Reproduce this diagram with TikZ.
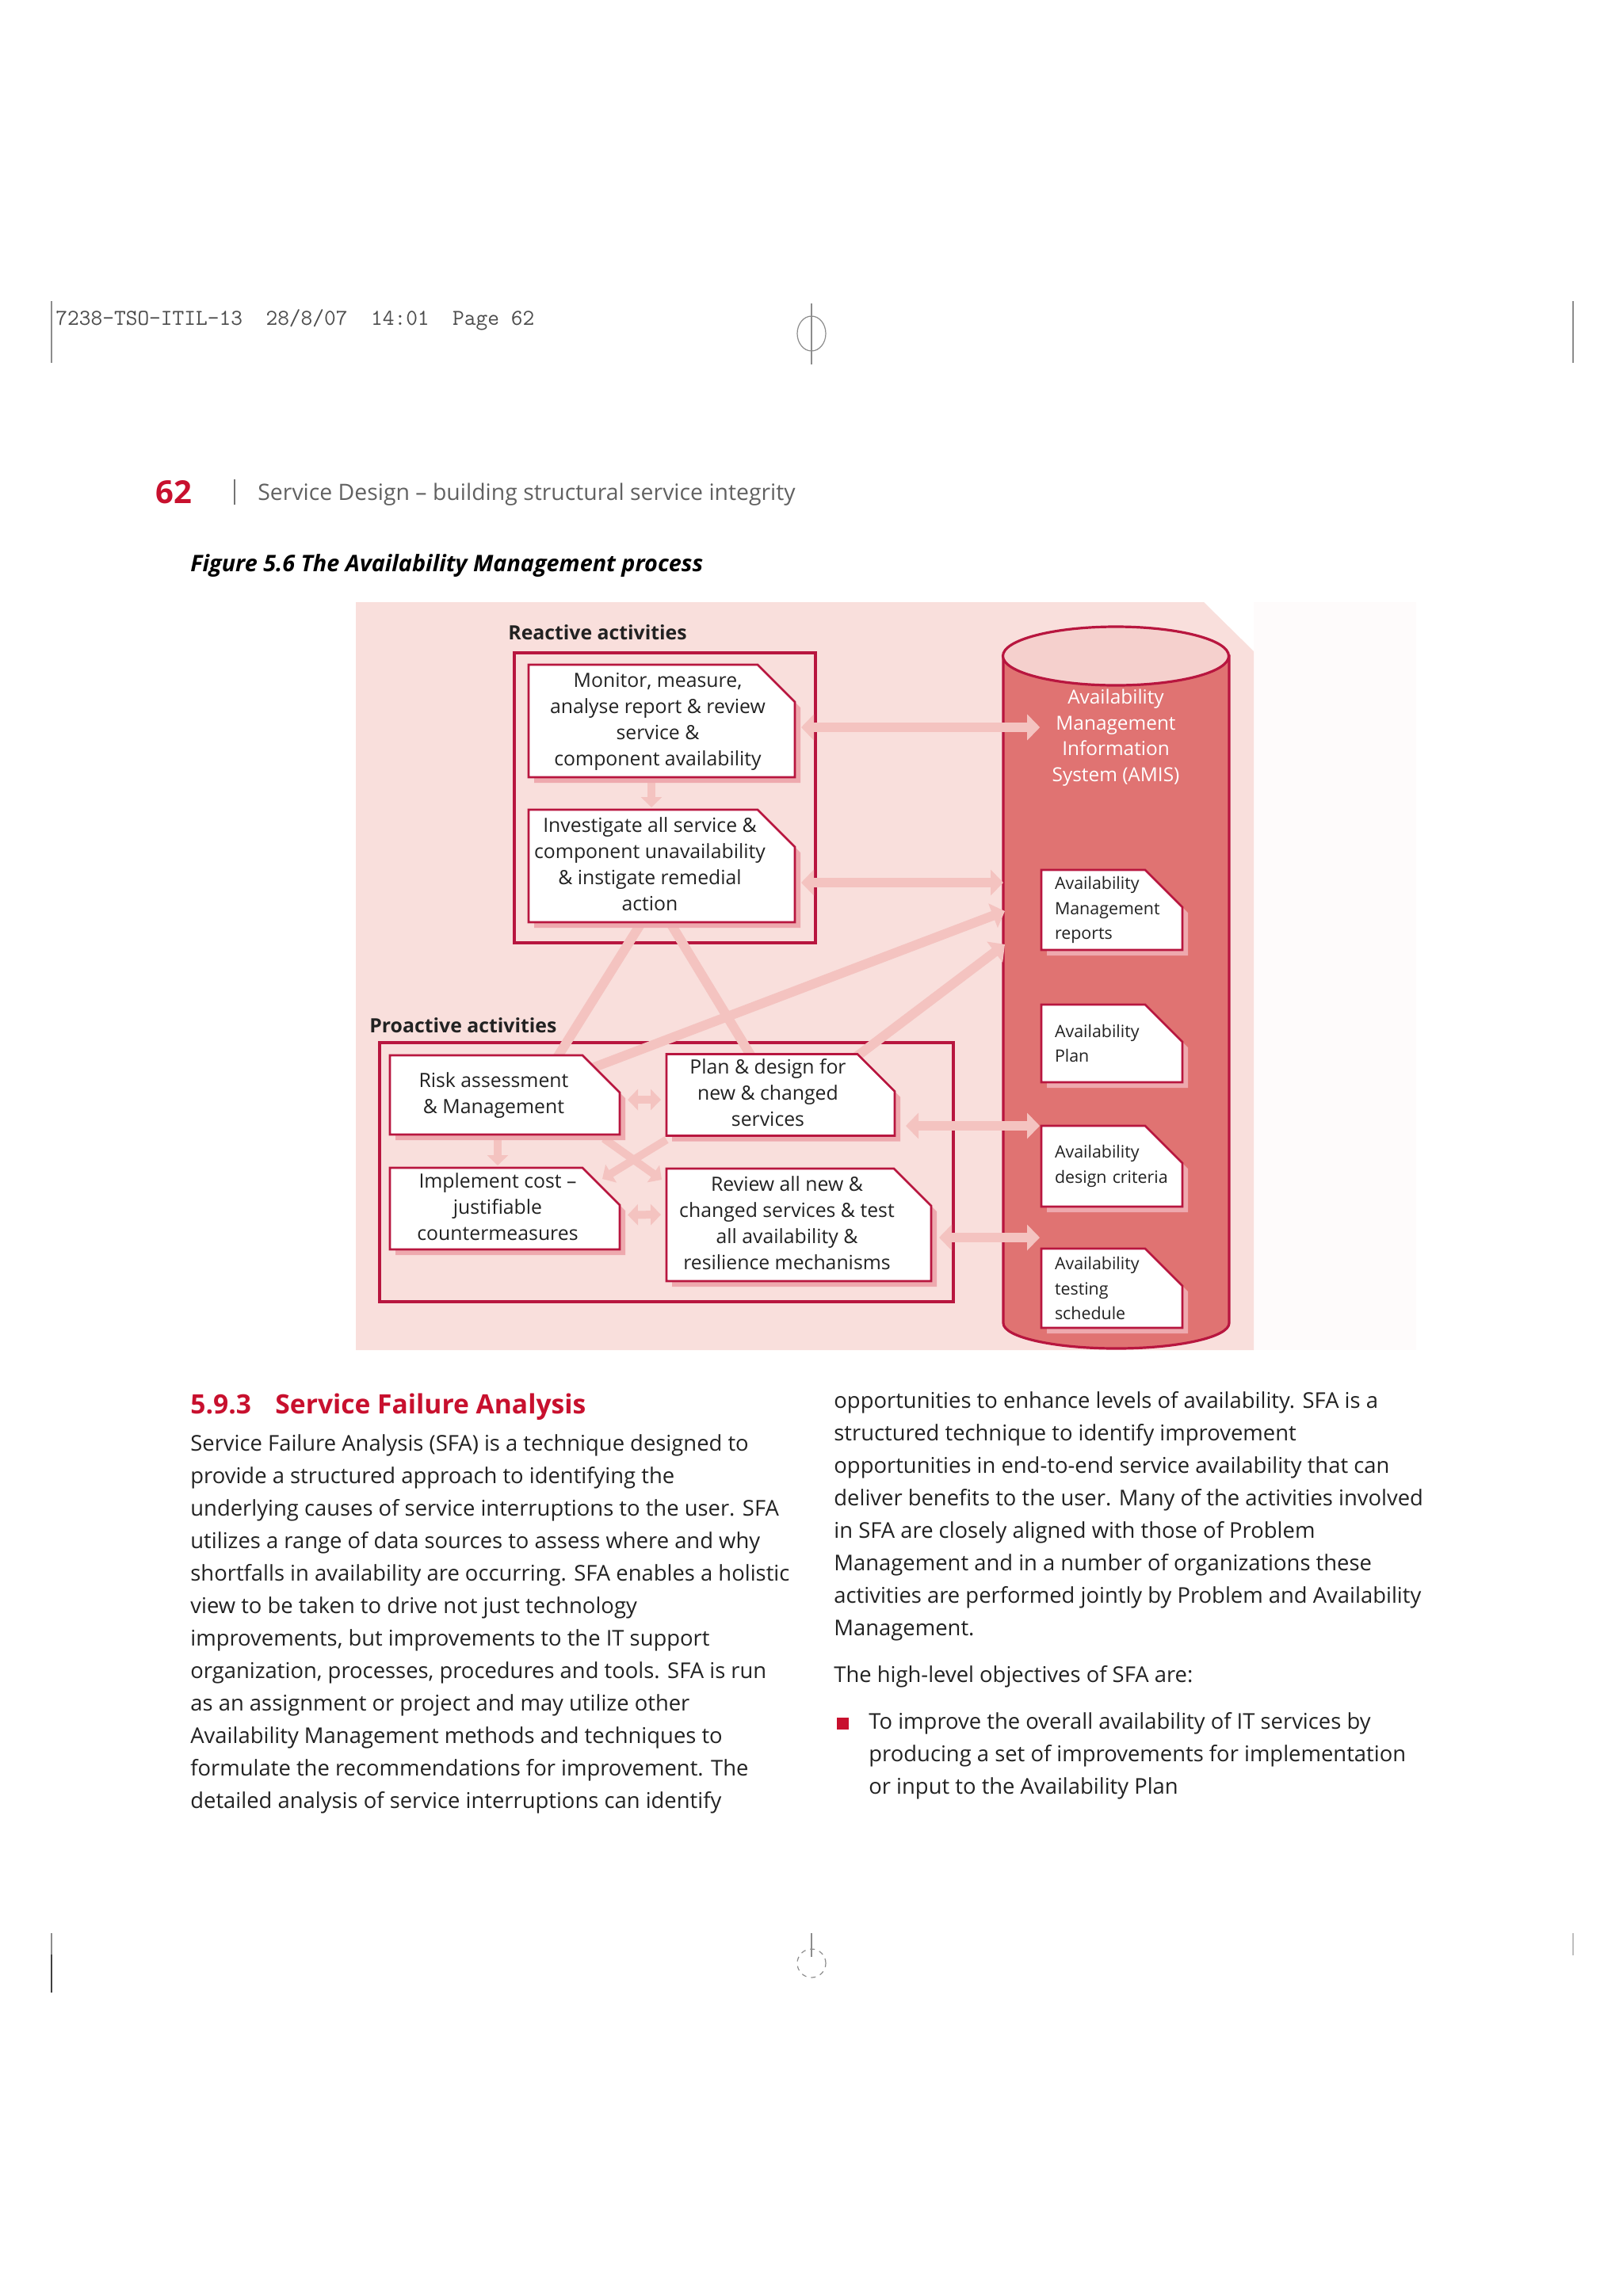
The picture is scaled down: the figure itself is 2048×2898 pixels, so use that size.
\documentclass[tikz,border=0pt]{standalone}
\usepackage{fontspec}
\setmainfont{Open Sans}
\usetikzlibrary{arrows.meta,calc}
\definecolor{crim}{HTML}{B8163F}
\definecolor{headred}{HTML}{C8102E}
\definecolor{bgpink}{HTML}{F9DFDC}
\definecolor{cylbody}{HTML}{E07372}
\definecolor{cyltop}{HTML}{F5D0CD}
\definecolor{arrowc}{HTML}{F4C3C0}
\definecolor{shadowc}{HTML}{EEA9AE}
\definecolor{txt}{HTML}{222222}
\pgfdeclarelayer{back}\pgfdeclarelayer{arr}\pgfdeclarelayer{boxes}
\pgfsetlayers{back,arr,boxes,main}
\newcommand\bodyfont{\fontsize{13.7}{20.5}\selectfont}
\newcommand\diagfont{\fontsize{12.4}{16.5}\selectfont}
\newcommand\cylfont{\fontsize{12.2}{16.35}\selectfont}
\newcommand\docfont{\fontsize{10.7}{15.7}\selectfont}
% centred lines, shifted left by #1 (given in pt = shift in px)
\newcommand\shiftl[2]{\begin{tabular}{@{}c@{\hspace{#1}}}#2\end{tabular}}
\newcommand\cutshape[1]{%
\begin{pgfonlayer}{boxes}
\fill[shadowc] ([xshift=3.5pt,yshift=-3.5pt]#1.south west) -- ([xshift=3.5pt,yshift=-3.5pt]#1.north west) -- ([xshift=-20pt,yshift=-3.5pt]#1.north east) -- ([xshift=3.5pt,yshift=-27pt]#1.north east) -- ([xshift=3.5pt,yshift=-3.5pt]#1.south east) -- cycle;
\filldraw[fill=white,draw=crim,line width=1.3pt] (#1.south west) -- (#1.north west) -- ([xshift=-23.5pt]#1.north east) -- ([yshift=-23.5pt]#1.north east) -- (#1.south east) -- cycle;
\end{pgfonlayer}}
\tikzset{
  regline/.style={draw=black!45,line width=0.6pt},
  procbox/.style={rectangle,inner xsep=2pt,inner ysep=1pt,outer sep=0pt,font=\diagfont,text=txt},
  docbox/.style={rectangle,text width=72pt,inner xsep=8.5pt,inner ysep=1pt,outer sep=0pt,align=left,font=\docfont,text=txt},
  groupbox/.style={rectangle,draw=crim,line width=1.6pt,inner sep=0pt,outer sep=0pt},
  flow/.style={draw=arrowc,line width=6pt,>={Triangle[width=16pt,length=8pt]}},
  flowsmall/.style={draw=arrowc,line width=5pt,>={Triangle[width=13pt,length=6.5pt]}},
  body/.style={anchor=base west,inner sep=0pt,font=\bodyfont,text=txt},
  lbl/.style={anchor=base west,inner sep=0pt}
}
\begin{document}
\begin{tikzpicture}[x=0.5pt,y=-0.5pt]
\useasboundingbox (0,0) rectangle (2048,2898);
\begin{pgfonlayer}{back}
\fill[white] (0,0) rectangle (2048,2898);
\end{pgfonlayer}
% registration marks
\draw[regline] (65,380) -- (65,458);
\draw[regline] (1024,383) -- (1024,460);
\draw[regline] (1024,421) ellipse [x radius=9pt, y radius=11pt];
\draw[regline] (1985,380) -- (1985,458);
\draw[regline] (65,2440) -- (65,2467);
\draw[draw=black!75,line width=0.8pt] (65,2467) -- (65,2515);
\draw[regline] (1024,2440) -- (1024,2470);
\draw[regline,dashed] (1024,2478) circle [radius=9pt];
\draw[regline,draw=black!25] (1985,2440) -- (1985,2468);
% header
\node[lbl,font=\ttfamily\fontsize{14.3}{16}\selectfont,text=black!70] (slug) at (70,410) {7238-TSO-ITIL-13\ \ 28/8/07\ \ 14:01\ \ Page 62};
\node[lbl,font=\bfseries\fontsize{20}{24}\selectfont,text=headred] (pnum) at (196,635) {62};
\draw[draw=black!55,line width=0.6pt] (296,605) -- (296,637);
\node[lbl,font=\fontsize{14.2}{17}\selectfont,text=black!62] (rhead) at (325,631) {Service Design -- building structural service integrity};
\node[lbl,font=\bfseries\itshape\fontsize{14.4}{17}\selectfont,text=black] (cap) at (240,721) {Figure 5.6 The Availability Management process};
% diagram background
\begin{pgfonlayer}{back}
\fill[bgpink!12] (1582,760) rectangle (1787,1704);
\fill[bgpink] (449,760) -- (1519,760) -- (1582,822) -- (1582,1704) -- (449,1704) -- cycle;
\filldraw[fill=cylbody,draw=crim,line width=1.6pt] (1266,828) -- (1266,1670) arc[start angle=180,end angle=360,x radius=71.25pt,y radius=16pt] -- (1551,828) -- cycle;
\filldraw[fill=cyltop,draw=crim,line width=1.6pt] (1408,828) ellipse [x radius=71.25pt, y radius=18.5pt];
\node[groupbox,minimum width=190pt,minimum height=183pt] (reactive) at (839,1007) {};
\node[groupbox,minimum width=362pt,minimum height=163.5pt] (proactive) at (841,1479.5) {};
\end{pgfonlayer}
\node[lbl,font=\bfseries\fontsize{12.4}{15}\selectfont,text=txt] (reactlbl) at (641,807) {Reactive activities};
\node[lbl,font=\bfseries\fontsize{12.4}{15}\selectfont,text=txt] (proactlbl) at (466,1303) {Proactive activities};
% process boxes
\node[procbox,minimum width=168pt,minimum height=71pt] (monitor) at (835,910) {\shiftl{5pt}{Monitor, measure,\\analyse report \& review\\service \&\\component availability}};
\node[procbox,minimum width=168pt,minimum height=71pt] (invest) at (835,1093) {\shiftl{15pt}{Investigate all service \&\\component unavailability\\\& instigate remedial\\action}};
\node[procbox,minimum width=145pt,minimum height=50pt] (risk) at (637,1382) {\shiftl{14pt}{Risk assessment\\\& Management}};
\node[procbox,minimum width=144pt,minimum height=50pt] (plan) at (985,1382) {\shiftl{16pt}{Plan \& design for\\new \& changed\\services}};
\node[procbox,minimum width=145pt,minimum height=50.5pt] (impl) at (637,1525.5) {\shiftl{9pt}{Implement cost --\\justifiable\\countermeasures}};
\node[procbox,minimum width=167pt,minimum height=71pt] (review) at (1008,1546) {\shiftl{15pt}{Review all new \&\\changed services \& test\\all availability \&\\resilience mechanisms}};
% cylinder contents
\node[font=\cylfont,text=white,align=center,inner sep=0pt] (amis) at (1408,931) {Availability\\Management\\Information\\System (AMIS)};
\node[docbox,minimum height=50.5pt] (reports) at (1403,1148.5) {Availability\\Management\\reports};
\node[docbox,minimum height=49pt] (avplan) at (1403,1317) {Availability\\Plan};
\node[docbox,minimum height=51pt] (crit) at (1403,1472) {Availability\\design criteria};
\node[docbox,minimum height=50pt] (testing) at (1403,1626) {Availability\\testing\\schedule};
\cutshape{monitor}\cutshape{invest}\cutshape{risk}\cutshape{plan}\cutshape{impl}\cutshape{review}
\cutshape{reports}\cutshape{avplan}\cutshape{crit}\cutshape{testing}
% connectors
\coordinate (cylI) at (1266,1114);
\coordinate (cylA) at (1268,1150);
\coordinate (cylB) at (1268,1192);
\begin{pgfonlayer}{arr}
\draw[flow,<->] ($(monitor.east)+(8,8)$) -- ($(amis.west)+(-15,-13)$);
\draw[flow,<->] ($(invest.east)+(8,21)$) -- (cylI);
\draw[flow,->] ($(risk.north east)+(-40,18)$) -- (cylA);
\draw[flow,->] ($(plan.north east)+(-52,6)$) -- (cylB);
\draw[flow] ($(invest.south)+(-24,-2)$) -- ($(risk.north)+(64,6)$);
\draw[flow] ($(invest.south)+(9,-2)$) -- ($(plan.north)+(-35,6)$);
\draw[flowsmall,<->] ($(risk.east)+(10,6)$) -- ($(plan.west)+(-7,6)$);
\draw[flowsmall,<->] ($(impl.east)+(10,8)$) -- ($(review.west)+(-7,-13)$);
\draw[flowsmall,->] ($(monitor.south)+(-13,5)$) -- ($(invest.north)+(-13,-3)$);
\draw[flowsmall,->] ($(risk.south)+(-9,6)$) -- ($(impl.north)+(-9,-3)$);
\draw[flowsmall,->] ($(risk.south east)+(-20,5)$) -- ($(review.north west)+(-6,14)$);
\draw[flowsmall,->] ($(plan.south west)+(0,5)$) -- ($(impl.north east)+(-22,14)$);
\draw[flow,<->] ($(plan.east)+(14,39)$) -- ($(crit.west)+(-2,-51)$);
\draw[flow,<->] ($(review.east)+(10,16)$) -- ($(testing.west)+(-2,-64)$);
\end{pgfonlayer}
% section text
\node[lbl,font=\bfseries\fontsize{16.8}{20}\selectfont,text=headred] (secnum) at (240,1784) {5.9.3};
\node[lbl,font=\bfseries\fontsize{16.8}{20}\selectfont,text=headred] (sectitle) at (347,1784) {Service Failure Analysis};
\foreach \t [count=\i from 0] in {
{Service Failure Analysis (SFA) is a technique designed to},
{provide a structured approach to identifying the},
{underlying causes of service interruptions to the user. SFA},
{utilizes a range of data sources to assess where and why},
{shortfalls in availability are occurring. SFA enables a holistic},
{view to be taken to drive not just technology},
{improvements, but improvements to the IT support},
{organization, processes, procedures and tools. SFA is run},
{as an assignment or project and may utilize other},
{Availability Management methods and techniques to},
{formulate the recommendations for improvement. The},
{detailed analysis of service interruptions can identify}}
\node[body] (lcol\i) at (240,{1831+41*\i}) {\t};
\foreach \t [count=\i from 0] in {
{opportunities to enhance levels of availability. SFA is a},
{structured technique to identify improvement},
{opportunities in end-to-end service availability that can},
{deliver benefits to the user. Many of the activities involved},
{in SFA are closely aligned with those of Problem},
{Management and in a number of organizations these},
{activities are performed jointly by Problem and Availability},
{Management.}}
\node[body] (rcol\i) at (1052,{1777+41*\i}) {\t};
\node[body] (objintro) at (1052,2123) {The high-level objectives of SFA are:};
\node[fill=headred,minimum size=7.5pt,inner sep=0pt] (bullet) at (1063,2175) {};
\foreach \t [count=\i from 0] in {
{To improve the overall availability of IT services by},
{producing a set of improvements for implementation},
{or input to the Availability Plan}}
\node[body] (bul\i) at (1096,{2182+41*\i}) {\t};
\end{tikzpicture}
\end{document}
